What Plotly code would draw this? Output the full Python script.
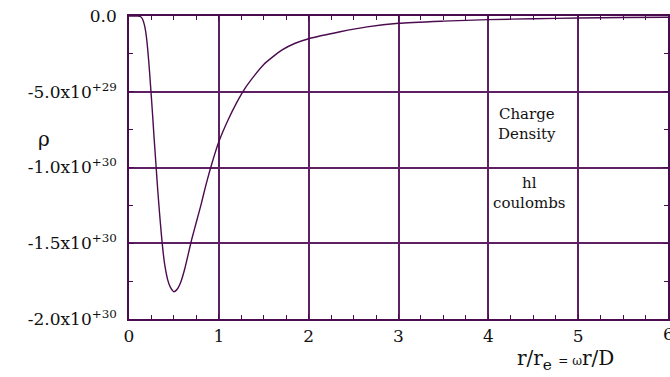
import plotly.graph_objects as go

# Radial coordinate r/r_e and charge density (in units of 1e30)
r_over_re = [0.00, 0.05, 0.10, 0.13, 0.15, 0.17, 0.185, 0.20, 0.22, 0.24, 0.26, 0.28,
             0.30, 0.32, 0.34, 0.36, 0.38, 0.40, 0.43, 0.46, 0.50, 0.54, 0.58, 0.62,
             0.66, 0.70, 0.75, 0.80, 0.85, 0.90, 0.95, 1.00, 1.10, 1.20, 1.30, 1.40,
             1.50, 1.60, 1.70, 1.85, 2.00, 2.35, 2.65, 3.00, 3.50, 4.00, 4.50, 5.00,
             5.50, 6.00]
rho_e30 = [0.0, 0.0, 0.0, -0.005, -0.02, -0.055, -0.10, -0.17, -0.30, -0.46, -0.63, -0.81,
           -0.98, -1.15, -1.30, -1.44, -1.56, -1.65, -1.74, -1.79, -1.82, -1.80, -1.75, -1.67,
           -1.57, -1.47, -1.36, -1.25, -1.13, -1.02, -0.92, -0.83, -0.69, -0.57, -0.47, -0.39,
           -0.32, -0.27, -0.225, -0.18, -0.15, -0.104, -0.072, -0.048, -0.034, -0.024, -0.018, -0.013,
           -0.010, -0.008]
RHO_UNIT = 1e30

x_ticks = [0, 1, 2, 3, 4, 5, 6]
y_ticks = [0.0, -5e29, -1e30, -1.5e30, -2e30]
y_ticktext = ["0.0", "-5.0x10<sup>+29</sup>", "-1.0x10<sup>+30</sup>",
              "-1.5x10<sup>+30</sup>", "-2.0x10<sup>+30</sup>"]

CURVE = "#4a0b4f"
GRID = "#5e2063"
FONT = "DejaVu Serif"
INK = "#111111"

fig = go.Figure()
fig.add_trace(go.Scatter(
    x=r_over_re,
    y=[v * RHO_UNIT for v in rho_e30],
    mode="lines",
    line=dict(color=CURVE, width=1.4, shape="spline", smoothing=0.6),
    hoverinfo="skip",
))

axis_common = dict(
    showgrid=True, gridcolor=GRID, gridwidth=1.5,
    showline=True, linecolor=CURVE, linewidth=1.5, mirror="allticks",
    ticks="inside", ticklen=5, tickcolor=CURVE, tickwidth=1,
    zeroline=False, automargin=False,
)

fig.update_xaxes(
    range=[0, 6], tickmode="array", tickvals=x_ticks,
    ticktext=[str(t) for t in x_ticks],
    minor=dict(dtick=0.25, tick0=0, ticks="inside", ticklen=4,
               tickcolor=CURVE, showgrid=False),
    ticklabelstandoff=1,
    tickfont=dict(family=FONT, size=17, color=INK),
    **axis_common,
)
fig.update_yaxes(
    range=[-2e30, 0], tickmode="array", tickvals=y_ticks, ticktext=y_ticktext,
    minor=dict(dtick=2.5e29, tick0=0, ticks="inside", ticklen=4,
               tickcolor=CURVE, showgrid=False),
    ticklabelstandoff=7,
    tickfont=dict(family=FONT, size=17, color=INK),
    **axis_common,
)

# last x tick label sits on the page edge
fig.add_annotation(
    x=6, y=0, xref="x", yref="paper", showarrow=False, text="6",
    font=dict(family=FONT, size=17, color=INK),
    xanchor="center", yanchor="top", yshift=-3,
)

fig.add_annotation(
    x=-0.158, y=0.594, xref="paper", yref="paper", showarrow=False,
    text="ρ", font=dict(family=FONT, size=20, color=INK),
    xanchor="center", yanchor="middle",
)
fig.add_annotation(
    x=0.81, y=-0.135, xref="paper", yref="paper", showarrow=False,
    text="r/r<span style='font-size:22px'><sub>e</sub></span> "
         "<span style='font-size:12px'>= ω</span>r/D",
    font=dict(family=FONT, size=20, color=INK),
    xanchor="center", yanchor="middle",
)
fig.add_annotation(
    x=0.738, y=0.645, xref="paper", yref="paper", showarrow=False,
    text="Charge<br>Density", font=dict(family=FONT, size=15, color=INK),
    xanchor="center", yanchor="middle",
)
fig.add_annotation(
    x=0.743, y=0.417, xref="paper", yref="paper", showarrow=False,
    text="hl<br>coulombs", font=dict(family=FONT, size=15, color=INK),
    xanchor="center", yanchor="middle",
)

fig.update_layout(
    width=670, height=377,
    margin=dict(l=128.5, r=1.5, t=16, b=58),
    plot_bgcolor="white", paper_bgcolor="white",
    showlegend=False,
)

fig.write_html("out.html")
